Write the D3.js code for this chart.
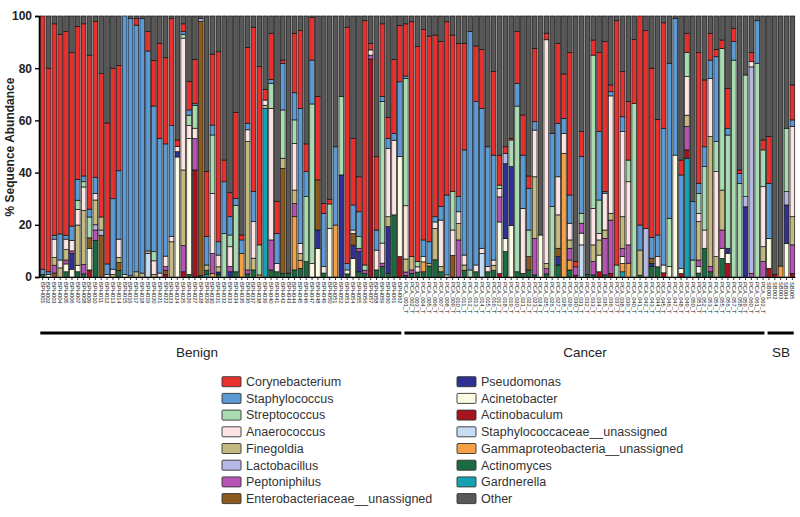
<!DOCTYPE html>
<html><head><meta charset="utf-8">
<script src="https://cdn.jsdelivr.net/npm/d3@7"></script>
<style>body{margin:0;background:#fff;} svg{display:block;font-family:Arial,"Liberation Sans",sans-serif;}</style>
</head><body><svg id="c" width="800" height="517"></svg>
<script>
const categories = ["Corynebacterium","Staphylococcus","Streptococcus","Anaerococcus","Finegoldia","Lactobacillus","Peptoniphilus","Enterobacteriaceae__unassigned","Pseudomonas","Acinetobacter","Actinobaculum","Staphylococcaceae__unassigned","Gammaproteobacteria__unassigned","Actinomyces","Gardnerella","Other"];
const colors = ["#e8312f","#5b9ad5","#a9dbb0","#fce4e4","#c4b97f","#b4b9e3","#b753b4","#8c5a1e","#2e3192","#fbfbe3","#a3141c","#c5ddf2","#f5a042","#1b6b41","#17a2b3","#585858"];
const groups = ["Benign","Cancer","SB"];
const groupSizes = [62,62,5];
const yTicks = [0,20,40,60,80,100];

const cory = [97,78,81,76.5,78,66.5,58.6,58.3,59,59.8,
55,54,50,40.3,0,0,2.5,0,7.4,17.5,
36.5,33,41,2.5,3,11,17,0,24.9,27.2,
72.8,8.3,9.2,32.9,1.9,29.1,63,68.3,4.1,17.7,
12.2,1.3,0,22.8,29.8,10.6,16.4,31.9,3.8,1.8,
0,0,90.5,25.5,13.4,93.6,2.5,28.1,27.8,8.1,
28.4,21.6,20,90,82.4,80.7,78.8,69.6,63.2,66.4,
60,58.7,40.8,0,21.3,22.6,0,32,11.5,2.5,
0.6,19.8,15.4,4.7,28.1,0,2.5,0,30.6,17,
54.6,2,9.6,0,5.8,30.3,57.5,2.6,93.6,17.3,
22.4,24.5,80.1,75.8,64.8,44.3,40.4,0,0,5.7,
7.4,0,50.1,25.6,10.3,2.8,3.2,15.3,5.1,1.3,
0,3.5,0,3.8,17.9,0,0,0,13.4];
const staph = [2,1,1.5,10,1.5,5.5,8,2.2,3,6.2,
0,4,27,26.2,99,98.5,94.5,97.5,76.6,55.8,
51.5,43,42.5,0,1,2,0.7,0,10.9,3.8,
5.1,19.8,7,2.6,5.2,2.5,11.5,0,0,1.5,
11.5,17.8,0,10.4,51.7,9.6,16.8,0,20.4,0,
30,0,2.5,9.6,9.5,0,0,7.7,1.9,3.8,
2.6,28.7,0.9,0,0,6.4,8.3,2,5.2,30.6,
0,5.8,40.3,91.3,62.6,53.6,45.9,40.2,0,0,
0,8.7,20.4,16,3.2,0,0,28,20.5,5.8,
10.8,0,21.7,0,0,26.2,0.6,1.6,0,5.7,
0,0,9.6,0,8,8.3,52.4,59.4,52.3,35.8,
0,22.4,3.9,7.6,7,32.5,0,2.6,7.1,3.8,
0,0,16.3,0,21.1,0,0,0,2.5];
const strep = [0,0,0,0,0,0,3.5,2,8,0,
0,0,0,0,0,0,0,0,0,3.5,
0,0,0,0,1.5,4,8.7,0,0,22.4,
0,16.7,4.5,25.5,0,0,0,11.5,0,9.6,
0,18.5,0,9,0,24.9,61.1,0,0,9.4,
0,30,0,0,4.5,2,0,0,54.3,0,
0,0,48.8,0,2,0,0,0,0,0,
14.7,0,0,2.7,0,0,0,0,1.3,0,
10.2,63.5,0,10.2,0,0,0,27,0,0,
0,0,3.8,0,58.7,12.8,0,0,4.6,0,
8.3,66.5,0,0,0,0,0,18.5,0,0,
9.2,6.5,7.6,24.3,0,11.5,54.3,43.4,83.1,35.9,
46.6,0,81.9,14.1,0,0,0,24.3,0];
const anaero = [0,1,7,3,4,4,6,9,0,2.5,
0,1,2,7,0,0,0,0,0,5.2,
1.5,4,2,2,50.5,5,4,0,0,23,
4.5,0,7.6,0,0,4.5,14,0,2,50.4,
3.2,0,0,17.9,3.9,0,0,0,2.5,0,
0,0,0,1.3,0,0,2,7.6,7.7,26.2,
28.6,0,20.4,0,2,0,0,2.5,17.8,0,
9.7,4.5,3.8,0,2.6,2,2,2,3.2,0,
0,0,24.9,0,17.9,0,85.7,0,14.6,7.6,
6.4,0,0,0,14,2.5,14.1,45,0,32.6,
24.2,0,0,0,0,3.9,0,0,0,0,
14.8,0,3.2,7,22.3,32.6,0,0,0,0,
0,2,0,23,0,0,0,0,34.6];
const finegoldia = [0,0,3,3.5,4,0,15.4,20.7,0,9.5,
5,0,1,2,0,0.5,2,1.5,1,1,
0,0,13.5,0,29,0,0,0,2,0,
2,0,0,0,0,49.2,4.5,0,1.2,0,
0,3.9,0,5.1,2.6,0,0,0,0,0,
0,0,0,0,0,0,0,0,0,3.8,
0,0,5,5.1,0,0,1,12,2,0,
0,6.3,2,0,0,0,0,2,0,0,
0,0,0,0,23.6,0,2,0,12.8,0,
3.2,0,0,0,6.4,5.8,3.2,2.6,0,12.1,
0,0,9.6,0,0,0,0,0,0,0,
4.4,0,14.7,0,49.8,7.8,15.3,0,0,0,
0,0,0,5.7,0,0,0,0,10.8];
const lacto = [0,0,0,0,0,0,0,0,0,2,
2,0,0,0,0,0,0,0,0,0,
0,0,0,0,0,0,0,1,0,0,
0,0,0,0,0,0,0,0,0,0,
0,0,0,0,0,0,0,0,0,0,
0,0,0,0,0,0,0,0,0,0,
0,0,0,0,0,0,0,0,0,0,
0,0,0,0,0,0,0,0,0,4,
0,0,0,0,0,0,0,0,0,0,
0,0,0,0,0,0,0,0,0,0,
0,0,0,18.6,0,0,0,0,0,0,
0,0,0,0,0,0,0,0,0,0,
3.9,79.1,0,0,0,0,0,5.1,0];
const pepto = [0,0,3,0,1.5,1,0,3.6,0,4,
0,0,0,0,0,0,0,0,0,0,
0,1.5,0,0,10,0,12,0,0,7.6,
0,0,2,0,0,1.5,0,0,0,11.5,
0,0,0,5.1,0,0,0,0,0,0,
0,0,0,0,1.3,1.3,1.5,0,1.3,0,
0,0,1.3,1.3,0,0,0,0,0,0,
0,14.2,0,0,0,0,0,0,9.6,0,
0,0,0,0,14,0,2,0,0,0,
4.5,3.2,3.8,0,5.1,0,14,20.4,0,3.2,
7,0,0,0,0,0,0,0,0,0,
8.9,0,2.5,0,2,0,7,0,0,0,
0,1.4,0,5.9,0,0,0,0,10.9];
const entero = [0,0,1.5,0,0,0,0,0,4,0,
16,0,0,3,0,0,0,0,0,0,
0,1.5,0,0,0,0,0,97.5,0,0,
0,0,0,0,0,0,0,0,0,0,
0,40.2,0,0,0,0,0,19.2,0,0,
0,0,0,4.5,0,0,0,0,0,0,
0,0,0,0,0,0,0,0,0,0,
8.3,0,0,0,0,0,0,0,0,0,
0,0,0,5.1,0,0,0,0,3.2,0,
0,0,0,0,0,0,0,0,0,0,
0,0,0,0,2,0,0,0,0,0,
0,0,0,0,0,0,0,0,0,0,
0,0,0,0,0,0,0,0,0];
const pseudo = [0,0,0,0,0,6,0,0,0,0,
0,0,0,0,0,0,0,0,0,0,
0,0,0,2,0,0,0,0,0,0,
1,0,2,0,0,0,0,0,0,0,
0,0,0,0,0,0,0,7,0,0,
0,39.1,0,5.1,7.7,0,0,0,0,17.9,
0,0,0,0,0,0,0,0,0,0,
0,0,0,0,0,0,0,0,0,28.7,
22.5,0,0,0,0,0,0,0,3.2,0,
0,0,0,0,0,0,0,0,0,0,
0,0,0,0,1.2,0,0,0,0,0,
0,0,0,0,0,0,0,1.9,0,0,
26.9,0,0,0,0,0,0,14.7,0];
const acineto = [0,0,0,0,3,3,2.5,0,8.3,0,
0,0,0,0,1,0,0,0,0,0,
0,0,0,46,0,52,0,0,0,0,
0,0,0,0,0,0,0,0,0,0,
0,0,0,0,0,0,5.2,11,0,18.6,
0,0,1.5,7.1,0,0,0,0,0,0,
0,38.3,0,0,0,2,0,0,0,0.8,
0,0,0,0,0,0,0,0,19.8,5,
19.8,0,0,0,0,16.1,0,0,0,0,
0,0,4.5,0,0,6.4,0,0,0,2.6,
0,0,0,0,0,0,3,4,46.7,2,
0,0,2.5,0,0,0,3.9,3.9,0,0,
0,0,0,0,11.5,0,0,12.9,0];
const actinobac = [0,0,0,0,0,0,0,0,2.7,0,
0,0,0,0,0,0,0,0,0,0,
0,1,0,0,2,0,41,0,0,0,
0,0,0,0,0,0,0,0,0,0,
0,0,0,0,0,0,0,0,0,0,
0,0,0,0,0,0,83.5,0,0,0,
0,7.8,0,0,0,0,0,0,0,0,
0,0,0,0,0,0,0,0,1.3,0,
0,0,0,0,0,0,0,0,0,0,
0,0.7,0,0,0,2,0,1.4,0,0,
0,0,0,0,0,0,1.6,0,0,1.3,
3.2,0,0,0,0,0,0,5.2,0,0,
0,0,0,0,3.3,1,0,0,1.4];
const staphcae = [0,0,0,0,0,0,0,0,0,0,
0,0,0,0,0,0,0,0,9,0,
0,0,0,0,0,0,0,0,0,0,
0,0,0,0,0,0,0,0,0,0,
0,0,0,0,0,0,0,0,0,0,
0,0,0,0,0,0,0,0,0,0,
0,0,0,0,0,0,0,0,0,0,
0,0,0,0,0,9,0,0,0,0,
0,0,0,0,0,0,0,0,0,0,
0,0,12.3,0,0,0,0,0,0,0,
0,0,0,0,0,0,0,0,0,0,
0,0,0,0,0,0,0,0,0,0,
0,0,0,0,0,0,0,0,0];
const gamma = [0,0,0,0,0,0,0,0,0,0,
0,0,0,0,0,0,0,0,0,0,
0,0,0,0,0,0,0,0,0,1.4,
0,0,0,0,9,0,0,0.8,0,0,
0,0,0,20.4,3.1,0,0,0,0,0,
19.9,0,0,0,0,0,0,0,0,0,
0,0,0,0,0,3.8,0,0,0,0,
0,0,0,0,0,0,0,0,0,0,
0,0,0,0,0,0,0,0,0,47.4,
3.8,0,0,0,0,0,0,0,0,3.2,
5.3,0,0,0,0,0,0,0,0,0,
0,0,0,0,0,0,0,0,0,0,
0,0,0,0,0,0,4.2,0,0];
const actinomyces = [1,0,0,0,2,0,2,1.2,0,14,
0,0,0,2.5,0,0,0,0,0,0,
0,0,0,0,0,1,0,0.5,1.5,0,
0.9,0,0,2,0,1.2,2.7,0,0,2.7,
2,1.4,1.5,2.7,3.3,5.9,0,0,1.5,0,
0,0,1.2,0,2,1.3,0,2.7,4,1.4,
23.8,0,0.6,1.4,1.9,2,4.2,6.6,2,0,
0,0,2.6,0,2,0,2,2.5,0,9.7,
0,2,1.4,2.7,0.8,0,1.2,0,4.6,0,
2.7,0,0,1,0.8,0,0.8,0,0,0,
0,0,0.7,0,4,3.9,0,0,0,0,
0,0,1.5,11,2,0,7.1,0,0,0,
0,0,0,0,0,0,0,0,0];
const gardnerella = [0,0,0,0,0,0,0,0,0,0,
0,0,0,0,0,0,0,0,0,0,
0,0,0,0,0,0,0,0,1.1,0,
0,0,0,0,0,0,0,0,64.6,0,
0,0,0,0,0,0,0,0,0,0,
0,0,0,0,0,0,0,0,0,0,
0,0,0,0,0,0,0,0,0,0,
0,0,0,0,0,0,0,0,0,0,
0,0,0,0,0,0,0,0,0,0,
0,0,0,0,0,0,0,0,0,2,
0,0,0,0,0,0,0,0,0,0,
45.5,0,0,0,0,0,0,0,0,0,
0,0,0,0,0,0,0,0,0];
const other = [0,20,3,7,6,14,4,3,15,2,
22,41,20,19,0,1,1,1,6,17,
10.5,16,1,47.5,3,25,16.6,1,59.6,14.6,
13.7,55.2,67.7,37,83.9,12,4.3,19.4,28.1,6.6,
71.1,16.9,98.5,6.6,5.6,49,0.5,30.9,71.8,70.2,
50.1,30.9,4.3,46.9,61.6,1.8,10.5,53.9,3,38.8,
16.6,3.6,3,2.2,11.7,5.1,7.7,7.3,9.8,2.2,
7.3,10.5,10.5,6,11.5,12.8,50.1,21.3,53.3,50.1,
46.9,6,37.9,61.3,12.4,83.9,6.6,45,10.5,22.2,
14,94.1,44.3,99,9.2,14,9.8,26.4,1.8,21.3,
32.8,9,0,5.6,20,39.6,2.6,18.1,1,55.2,
6.6,71.1,14,24.5,6.6,12.8,9.2,27.7,4.7,59,
22.6,14,1.8,47.5,46.2,99,95.8,43,26.4];

const seriesArrays = [cory,staph,strep,anaero,finegoldia,lacto,pepto,entero,pseudo,acineto,actinobac,staphcae,gamma,actinomyces,gardnerella,other];
const groupPrefixes = ["BPH","PCA","SB"];

// sample labels
const labels = [];
groups.forEach((g,gi)=>{ for(let k=0;k<groupSizes[gi];k++){ labels.push(gi===1 ? `${groupPrefixes[gi]}_${String(k+1).padStart(3,"0")}_T` : `${groupPrefixes[gi]}${String(k+1).padStart(3,"0")}`); } });

const table = labels.map((lab,i)=>{ const o={label:lab}; categories.forEach((c,k)=>o[c]=seriesArrays[k][i]); return o; });
const stackKeys = categories.slice(0,15).reverse().concat(["Other"]);
const color = d3.scaleOrdinal().domain(categories).range(colors);

const svg = d3.select("#c");
const x = d3.scaleBand().domain(labels).range([40,795]).paddingInner(0.2).paddingOuter(0.05);
const y = d3.scaleLinear().domain([0,100]).range([277,16]);

const stacked = d3.stack().keys(stackKeys)(table);
svg.append("g").selectAll("g").data(stacked).join("g")
  .attr("fill", d=>color(d.key))
  .selectAll("rect").data(d=>d.filter(p=>p[1]-p[0]>0)).join("rect")
  .attr("x", d=>x(d.data.label))
  .attr("width", x.bandwidth())
  .attr("y", d=>y(Math.min(100,d[1])))
  .attr("height", d=>Math.max(0, y(d[0]) - y(Math.min(100,d[1]))))
  .attr("stroke","#111").attr("stroke-width",0.7);

// y axis
const ya = svg.append("g").attr("transform","translate(39,0)")
  .call(d3.axisLeft(y).tickValues(yTicks).tickSize(4).tickPadding(3));
ya.select(".domain").attr("stroke","#000").attr("stroke-width",1.6);
ya.selectAll(".tick line").attr("stroke","#000").attr("stroke-width",1.4);
ya.selectAll("text").style("font-size","12px").style("font-weight","bold").attr("fill","#222");

svg.append("text").attr("transform","translate(14,147) rotate(-90)")
  .attr("text-anchor","middle").style("font-size","12px").style("font-weight","bold").attr("fill","#222")
  .text("% Sequence Abundance");

// x axis
const xa = svg.append("g").attr("transform","translate(0,277)")
  .call(d3.axisBottom(x).tickSize(3).tickSizeOuter(0));
xa.select(".domain").attr("stroke","#000").attr("stroke-width",1.2);
xa.selectAll(".tick line").attr("stroke","#000").attr("stroke-width",0.8);
xa.selectAll("text").attr("transform","rotate(90)").attr("x",5).attr("y",0).attr("dy","0.35em")
  .style("text-anchor","start").style("font-size","5.8px").attr("fill","#111");

// groups
let start = 0;
const groupLabelX = [197, 585, 781];
groups.forEach((g,gi)=>{
  const a = labels[start], b = labels[start+groupSizes[gi]-1];
  const x0 = x(a) + (gi===0?0:1), x1 = x(b) + x.bandwidth() - 1;
  svg.append("line").attr("x1",x0).attr("x2",x1).attr("y1",333).attr("y2",333)
    .attr("stroke","#000").attr("stroke-width",3);
  svg.append("text").attr("x",groupLabelX[gi]).attr("y",357).attr("text-anchor","middle")
    .style("font-size","13.5px").attr("fill","#222").text(g);
  start += groupSizes[gi];
});

// legend
const leg = svg.append("g");
categories.forEach((c,k)=>{
  const col = Math.floor(k/8), row = k%8;
  const lx = col===0 ? 222 : 457, ly = 381.7 + row*16.7;
  leg.append("rect").attr("x",lx).attr("y",ly-5).attr("width",19).attr("height",10)
    .attr("fill",colors[k]).attr("stroke","#333").attr("stroke-width",0.9).attr("rx",1);
  leg.append("text").attr("x",lx+24).attr("y",ly).attr("dy","0.35em")
    .style("font-size","12.5px").attr("fill","#333").text(c);
});
</script></body></html>
